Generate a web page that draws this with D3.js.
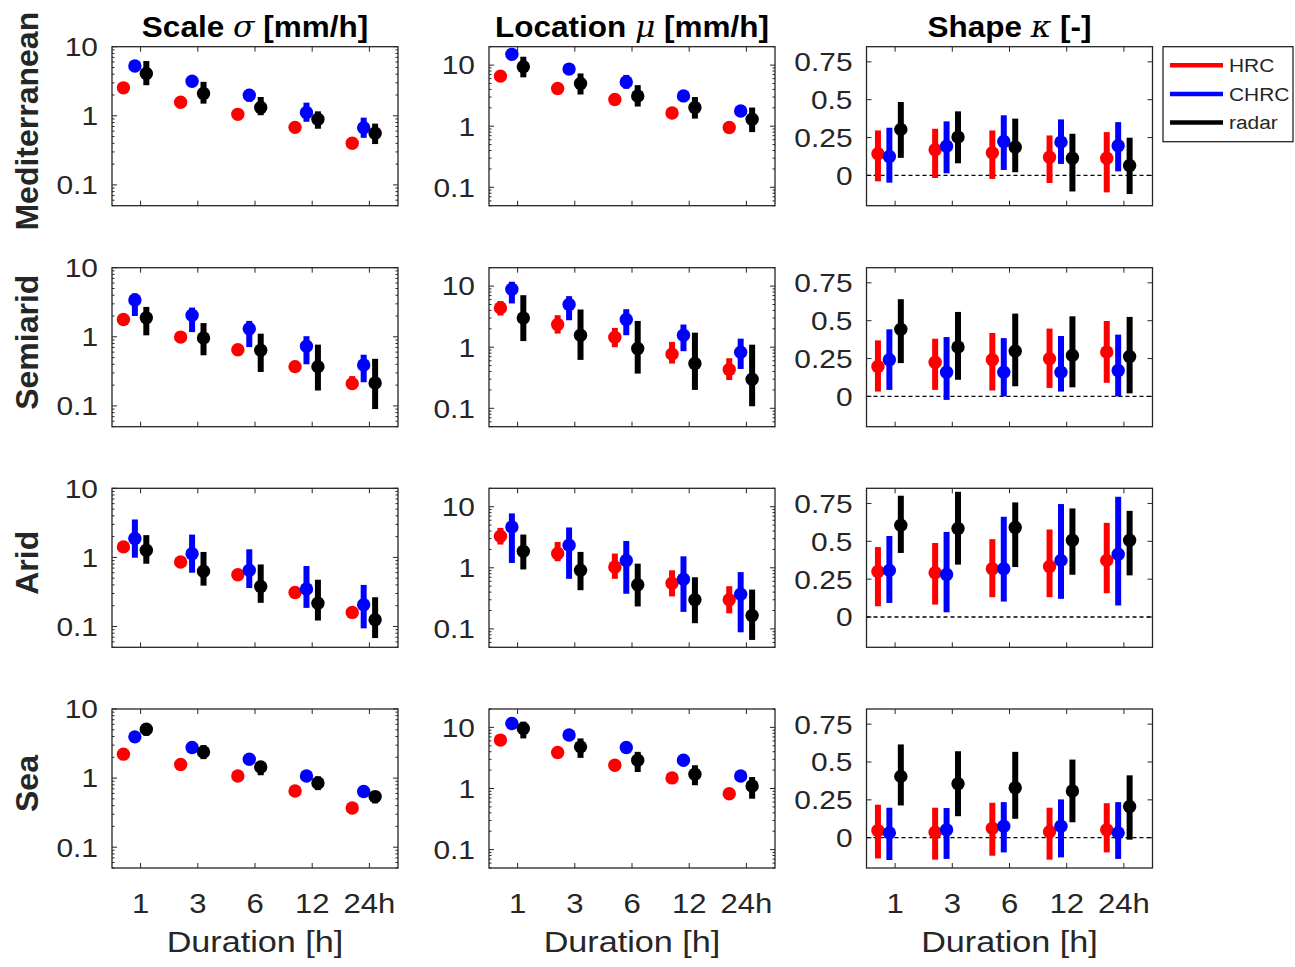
<!DOCTYPE html>
<html>
<head>
<meta charset="utf-8">
<script src="https://cdn.jsdelivr.net/npm/d3@7"></script>
<style>
  body { margin: 0; background: #fff; }
  svg { display: block; }
</style>
</head>
<body>
<svg id="fig" width="1295" height="967"></svg>
<script>
// ---- categories ----
const durations = ["1", "3", "6", "12", "24h"];
const sources = ["HRC", "CHRC", "radar"];
const sourceColors = ["#ff0000", "#0000ff", "#000000"];
const regions = ["Mediterranean", "Semiarid", "Arid", "Sea"];
const paramTitles = [
  ["Scale ", "\u03C3", " [mm/h]"],
  ["Location ", "\u03BC", " [mm/h]"],
  ["Shape ", "\u03BA", " [-]"]
];
const logTicks = [0.1, 1, 10];
const shapeTicks = [0, 0.25, 0.5, 0.75];

// ---- GEV parameter estimates: [lower, estimate, upper] per duration ----
const medScale = {
  HRC:   [[2.40, 2.54, 2.70], [1.48, 1.57, 1.66], [0.99, 1.05, 1.11], [0.64, 0.68, 0.72], [0.38, 0.40, 0.43]],
  CHRC:  [[4.50, 5.25, 6.10], [2.70, 3.16, 3.65], [1.60, 1.99, 2.45], [0.82, 1.12, 1.55], [0.48, 0.67, 0.94]],
  radar: [[2.77, 4.10, 6.20], [1.50, 2.10, 3.10], [1.02, 1.32, 1.87], [0.65, 0.89, 1.16], [0.39, 0.56, 0.77]]
};
const medLocation = {
  HRC:   [[6.2, 6.6, 7.0], [3.9, 4.14, 4.4], [2.57, 2.73, 2.9], [1.54, 1.64, 1.75], [0.89, 0.95, 1.01]],
  CHRC:  [[13.0, 15.0, 17.3], [7.4, 8.6, 10.0], [4.1, 5.3, 6.9], [2.6, 3.13, 3.8], [1.5, 1.77, 2.1]],
  radar: [[6.3, 9.4, 13.7], [3.3, 5.0, 7.3], [2.1, 3.13, 4.7], [1.33, 2.02, 3.0], [0.8, 1.3, 2.02]]
};
const medShape = {
  HRC:   [[-0.039, 0.143, 0.297], [-0.017, 0.169, 0.308], [-0.023, 0.149, 0.297], [-0.050, 0.120, 0.264], [-0.112, 0.113, 0.286]],
  CHRC:  [[-0.048, 0.125, 0.315], [0.014, 0.193, 0.357], [0.036, 0.224, 0.397], [0.076, 0.220, 0.370], [0.027, 0.196, 0.352]],
  radar: [[0.116, 0.304, 0.485], [0.080, 0.253, 0.423], [0.021, 0.186, 0.375], [-0.106, 0.113, 0.275], [-0.123, 0.065, 0.249]]
};

const semiScale = {
  HRC:   [[1.65, 1.78, 1.90], [0.88, 0.99, 1.15], [0.56, 0.65, 0.77], [0.32, 0.37, 0.45], [0.175, 0.21, 0.27]],
  CHRC:  [[2.00, 3.40, 4.25], [1.17, 2.05, 2.65], [0.71, 1.31, 1.70], [0.40, 0.73, 1.02], [0.22, 0.39, 0.55]],
  radar: [[1.05, 1.88, 2.71], [0.54, 0.96, 1.58], [0.31, 0.64, 1.11], [0.167, 0.37, 0.77], [0.09, 0.215, 0.48]]
};
const semiLocation = {
  HRC:   [[3.3, 4.4, 5.7], [1.67, 2.35, 3.34], [1.0, 1.45, 2.07], [0.54, 0.77, 1.22], [0.29, 0.43, 0.66]],
  CHRC:  [[5.2, 8.9, 11.8], [2.76, 5.0, 6.85], [1.57, 2.84, 4.19], [0.86, 1.57, 2.35], [0.44, 0.83, 1.38]],
  radar: [[1.26, 3.0, 7.1], [0.62, 1.57, 4.14], [0.37, 0.95, 2.69], [0.20, 0.54, 1.73], [0.108, 0.30, 1.10]]
};
const semiShape = {
  HRC:   [[0.032, 0.198, 0.370], [0.043, 0.226, 0.381], [0.039, 0.242, 0.419], [0.056, 0.249, 0.448], [0.090, 0.293, 0.498]],
  CHRC:  [[0.043, 0.242, 0.443], [-0.023, 0.160, 0.392], [0.000, 0.160, 0.385], [0.032, 0.160, 0.399], [0.000, 0.171, 0.408]],
  radar: [[0.220, 0.443, 0.642], [0.110, 0.326, 0.558], [0.067, 0.299, 0.547], [0.060, 0.271, 0.529], [0.020, 0.264, 0.525]]
};

const aridScale = {
  HRC:   [[1.34, 1.42, 1.50], [0.81, 0.86, 0.91], [0.53, 0.56, 0.60], [0.29, 0.31, 0.33], [0.15, 0.16, 0.17]],
  CHRC:  [[0.99, 1.88, 3.54], [0.60, 1.13, 2.14], [0.36, 0.65, 1.31], [0.186, 0.35, 0.75], [0.094, 0.206, 0.40]],
  radar: [[0.81, 1.27, 2.10], [0.39, 0.63, 1.20], [0.22, 0.38, 0.79], [0.122, 0.217, 0.475], [0.068, 0.125, 0.265]]
};
const aridLocation = {
  HRC:   [[2.4, 3.29, 4.5], [1.28, 1.71, 2.65], [0.66, 1.03, 1.71], [0.34, 0.56, 0.91], [0.18, 0.30, 0.50]],
  CHRC:  [[1.2, 4.67, 7.76], [0.66, 2.34, 4.57], [0.376, 1.32, 2.75], [0.19, 0.65, 1.54], [0.088, 0.37, 0.85]],
  radar: [[0.94, 1.86, 3.5], [0.43, 0.91, 1.82], [0.233, 0.53, 1.17], [0.124, 0.30, 0.70], [0.066, 0.166, 0.44]]
};
const aridShape = {
  HRC:   [[0.071, 0.301, 0.462], [0.082, 0.293, 0.489], [0.131, 0.319, 0.514], [0.131, 0.334, 0.578], [0.157, 0.374, 0.622]],
  CHRC:  [[0.093, 0.308, 0.535], [0.031, 0.281, 0.562], [0.102, 0.319, 0.662], [0.120, 0.374, 0.746], [0.076, 0.414, 0.794]],
  radar: [[0.423, 0.606, 0.801], [0.346, 0.585, 0.827], [0.330, 0.591, 0.757], [0.279, 0.507, 0.717], [0.275, 0.507, 0.701]]
};

const seaScale = {
  HRC:   [[2.10, 2.22, 2.35], [1.49, 1.57, 1.65], [1.01, 1.07, 1.13], [0.60, 0.65, 0.69], [0.34, 0.37, 0.40]],
  CHRC:  [[3.70, 3.95, 4.20], [2.60, 2.77, 2.95], [1.76, 1.87, 1.98], [1.00, 1.07, 1.14], [0.60, 0.64, 0.68]],
  radar: [[4.10, 5.10, 6.20], [1.88, 2.39, 3.00], [1.10, 1.45, 1.77], [0.67, 0.85, 1.06], [0.43, 0.54, 0.64]]
};
const seaLocation = {
  HRC:   [[5.9, 6.2, 6.5], [3.7, 3.88, 4.1], [2.28, 2.4, 2.52], [1.42, 1.49, 1.57], [0.78, 0.82, 0.86]],
  CHRC:  [[11.0, 11.6, 12.2], [7.1, 7.5, 7.9], [4.45, 4.7, 4.95], [2.75, 2.9, 3.05], [1.52, 1.6, 1.68]],
  radar: [[6.6, 9.6, 12.4], [3.17, 4.8, 6.6], [1.86, 2.9, 3.98], [1.13, 1.71, 2.4], [0.68, 1.1, 1.54]]
};
const seaShape = {
  HRC:   [[-0.137, 0.047, 0.218], [-0.145, 0.036, 0.198], [-0.119, 0.062, 0.231], [-0.145, 0.040, 0.198], [-0.097, 0.052, 0.228]],
  CHRC:  [[-0.147, 0.032, 0.198], [-0.140, 0.052, 0.196], [-0.097, 0.076, 0.235], [-0.130, 0.076, 0.253], [-0.140, 0.032, 0.235]],
  radar: [[0.213, 0.405, 0.616], [0.142, 0.357, 0.571], [0.125, 0.330, 0.567], [0.102, 0.308, 0.516], [-0.013, 0.206, 0.412]]
};

const panelData = [
  [medScale, medLocation, medShape],
  [semiScale, semiLocation, semiShape],
  [aridScale, aridLocation, aridShape],
  [seaScale, seaLocation, seaShape]
];

// ---- layout ----
const colX = [112, 489, 866.5];
const rowY = [46.7, 267.7, 488.3, 709];
const PW = 286, PH = 159;
const groupOffsets = [-0.3, -0.1, 0.1];
const ink = "#262626";
const FONT = "'Liberation Sans', Arial, Helvetica, sans-serif";
const SX = 1.15; // horizontal widening of lettering

const svg = d3.select("#fig").style("font-family", FONT);

const x = d3.scaleLinear().domain([0.5, 5.5]).range([0, PW]);
const yScales = [
  d3.scaleLog().domain([0.05, 10]).range([PH, 0]),
  d3.scaleLog().domain([0.05, 20]).range([PH, 0]),
  d3.scaleLinear().domain([-0.2, 0.85]).range([PH, 0])
];
const majorTicks = [logTicks, logTicks, shapeTicks];

function minorLogTicks(dom) {
  const out = [];
  for (let e = -3; e <= 3; e++) {
    for (let m = 2; m <= 9; m++) {
      const v = m * Math.pow(10, e);
      if (v >= dom[0] - 1e-9 && v <= dom[1] + 1e-9) out.push(v);
    }
  }
  return out;
}

function stretchedText(sel, px, py, str, opts) {
  const t = sel.append("text")
    .attr("transform", `translate(${px},${py}) scale(${opts.sx || SX},1)`)
    .attr("text-anchor", opts.anchor || "middle")
    .attr("font-size", opts.size)
    .attr("fill", opts.fill || ink);
  if (opts.weight) t.attr("font-weight", opts.weight);
  if (opts.dy) t.attr("dy", opts.dy);
  t.text(str);
  return t;
}

regions.forEach((region, r) => {
  [0, 1, 2].forEach(c => {
    const y = yScales[c];
    const g = svg.append("g").attr("transform", `translate(${colX[c]},${rowY[r]})`);

    // axis ticks (inward) on all four sides
    const ticksG = g.append("g").attr("stroke", ink).attr("stroke-width", 1);
    const maj = majorTicks[c];
    const minor = c < 2 ? minorLogTicks(y.domain()) : [];
    maj.forEach(v => {
      ticksG.append("line").attr("x1", 0).attr("x2", 5).attr("y1", y(v)).attr("y2", y(v));
      ticksG.append("line").attr("x1", PW).attr("x2", PW - 5).attr("y1", y(v)).attr("y2", y(v));
    });
    minor.forEach(v => {
      ticksG.append("line").attr("x1", 0).attr("x2", 2.5).attr("y1", y(v)).attr("y2", y(v));
      ticksG.append("line").attr("x1", PW).attr("x2", PW - 2.5).attr("y1", y(v)).attr("y2", y(v));
    });
    durations.forEach((d, i) => {
      ticksG.append("line").attr("x1", x(i + 1)).attr("x2", x(i + 1)).attr("y1", PH).attr("y2", PH - 5);
      ticksG.append("line").attr("x1", x(i + 1)).attr("x2", x(i + 1)).attr("y1", 0).attr("y2", 5);
    });

    // y tick labels
    maj.forEach(v => {
      stretchedText(g, -14, y(v), String(v), { anchor: "end", size: 26, dy: "0.36em" });
    });

    // zero reference for the shape parameter
    if (c === 2) {
      g.append("line")
        .attr("x1", 0).attr("x2", PW)
        .attr("y1", y(0)).attr("y2", y(0))
        .attr("stroke", "#000").attr("stroke-width", 1.3)
        .attr("stroke-dasharray", "4,3");
    }

    // error bars and point estimates
    const data = panelData[r][c];
    sources.forEach((s, k) => {
      const pts = data[s].map((v, i) => ({ xi: i + 1 + groupOffsets[k], lo: v[0], mid: v[1], hi: v[2] }));
      const sg = g.append("g");
      sg.selectAll("line.err").data(pts).join("line")
        .attr("class", "err")
        .attr("x1", d => x(d.xi)).attr("x2", d => x(d.xi))
        .attr("y1", d => y(d.lo)).attr("y2", d => y(d.hi))
        .attr("stroke", sourceColors[k]).attr("stroke-width", 6);
      sg.selectAll("circle").data(pts).join("circle")
        .attr("cx", d => x(d.xi)).attr("cy", d => y(d.mid))
        .attr("r", 6.7).attr("fill", sourceColors[k]);
    });

    // frame
    g.append("rect").attr("x", 0).attr("y", 0).attr("width", PW).attr("height", PH)
      .attr("fill", "none").attr("stroke", ink).attr("stroke-width", 1.3);

    // x tick labels and axis label on the bottom row
    if (r === regions.length - 1) {
      durations.forEach((d, i) => {
        stretchedText(g, x(i + 1), 913 - rowY[r], d, { size: 27 });
      });
      stretchedText(g, PW / 2, 952 - rowY[r], "Duration [h]", { size: 30, sx: 1.14 });
    }
  });

  // region label
  const cy = rowY[r] + PH / 2 - 5;
  svg.append("text")
    .attr("transform", `translate(38,${cy}) rotate(-90)`)
    .attr("text-anchor", "middle")
    .attr("font-size", 32).attr("font-weight", "bold")
    .attr("fill", ink)
    .text(region);
});

// column titles
paramTitles.forEach((parts, c) => {
  const t = svg.append("text")
    .attr("transform", `translate(${colX[c] + PW / 2},37) scale(1.05,1)`)
    .attr("text-anchor", "middle")
    .attr("font-size", 30).attr("font-weight", "bold").attr("fill", "#000");
  t.append("tspan").text(parts[0]);
  t.append("tspan").attr("font-family", "'DejaVu Serif', 'Liberation Serif', serif")
    .attr("font-style", "italic").attr("font-weight", "normal").text(parts[1]);
  t.append("tspan").text(parts[2]);
});

// legend
const lg = svg.append("g").attr("transform", "translate(1163,46.7)");
lg.append("rect").attr("width", 130).attr("height", 95)
  .attr("fill", "#fff").attr("stroke", ink).attr("stroke-width", 1.3);
sources.forEach((s, k) => {
  const ly = 18.5 + k * 28.7;
  lg.append("line").attr("x1", 7).attr("x2", 60).attr("y1", ly).attr("y2", ly)
    .attr("stroke", sourceColors[k]).attr("stroke-width", 4.5);
  stretchedText(lg, 66, ly, s, { anchor: "start", size: 19, dy: "0.36em", sx: 1.1 });
});
</script>
</body>
</html>
